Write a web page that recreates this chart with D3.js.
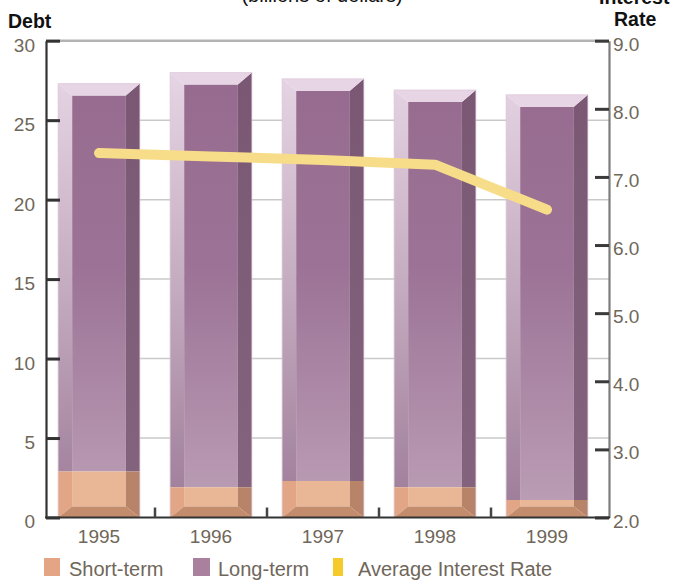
<!DOCTYPE html>
<html>
<head>
<meta charset="utf-8">
<script src="https://cdn.jsdelivr.net/npm/d3@7"></script>
<style>
  html, body { margin: 0; padding: 0; background: #ffffff; }
  svg { display: block; }
  text { font-family: "Liberation Sans", Arial, sans-serif; }
</style>
</head>
<body>
<svg id="chart" width="673" height="582"></svg>
<script>
// Debt (billions of dollars) and average interest rate, 1995–1999
const years = ["1995", "1996", "1997", "1998", "1999"];
const shortTerm = [2.9, 1.9, 2.3, 1.9, 1.1];
const longTerm = [24.4, 26.1, 25.3, 25.0, 25.5];
const interestRate = [7.35, 7.3, 7.25, 7.18, 6.52];
const debtTicks = [0, 5, 10, 15, 20, 25, 30];
const rateTicks = [2.0, 3.0, 4.0, 5.0, 6.0, 7.0, 8.0, 9.0];
const legendItems = ["Short-term", "Long-term", "Average Interest Rate"];

const svg = d3.select("#chart");
const textColor = "#6f675a";

const plotLeft = 46, plotRight = 609, plotTop = 40.7, plotBottom = 517.5;

const x = d3.scaleBand().domain(years).range([43, 603]).paddingInner(0.27).paddingOuter(0.135);
const yDebt = d3.scaleLinear().domain([0, 30]).range([plotBottom, plotTop]);
const yRate = d3.scaleLinear().domain([2, 9]).range([plotBottom, plotTop]);

// gradients
const defs = svg.append("defs");
function vGrad(id, stops) {
  const g = defs.append("linearGradient").attr("id", id)
    .attr("gradientUnits", "userSpaceOnUse")
    .attr("x1", 0).attr("x2", 0).attr("y1", plotTop + 40).attr("y2", plotBottom - 20);
  stops.forEach(([o, c]) => g.append("stop").attr("offset", o).attr("stop-color", c));
}
vGrad("longFace", [["0%", "#966b8f"], ["45%", "#9c7396"], ["100%", "#ba9cb4"]]);
vGrad("longLeft", [["0%", "#e4d3e2"], ["50%", "#c4abbf"], ["100%", "#a07f9b"]]);
vGrad("longRight", [["0%", "#7a5874"], ["100%", "#83637d"]]);

// grid lines at debt ticks
svg.append("g").selectAll("line")
  .data(debtTicks.filter(d => d > 0 && d < 30))
  .join("line")
  .attr("x1", plotLeft).attr("x2", plotRight)
  .attr("y1", d => yDebt(d)).attr("y2", d => yDebt(d))
  .attr("stroke", "#c9c9c9").attr("stroke-width", 1.5);

// top frame line
svg.append("line")
  .attr("x1", plotLeft).attr("x2", plotRight).attr("y1", plotTop).attr("y2", plotTop)
  .attr("stroke", "#b3b3b3").attr("stroke-width", 2.5);

// bevelled bars
const sb = 14, tb = 12, bb = 11;
const bars = svg.append("g");
years.forEach((yr, i) => {
  const x0 = x(yr), x1 = x(yr) + x.bandwidth();
  const yBase = yDebt(0);
  const yMid = yDebt(shortTerm[i]);
  const yTop = yDebt(shortTerm[i] + longTerm[i]);
  const g = bars.append("g");
  const poly = (pts, fill) => g.append("polygon")
    .attr("points", pts.map(p => p.join(",")).join(" ")).attr("fill", fill);

  // long-term section
  poly([[x0 + sb, yTop + tb], [x1 - sb, yTop + tb], [x1 - sb, yMid], [x0 + sb, yMid]], "url(#longFace)");
  poly([[x0, yTop], [x0 + sb, yTop + tb], [x0 + sb, yMid], [x0, yMid]], "url(#longLeft)");
  poly([[x1, yTop], [x1, yMid], [x1 - sb, yMid], [x1 - sb, yTop + tb]], "url(#longRight)");
  poly([[x0, yTop], [x1, yTop], [x1 - sb, yTop + tb], [x0 + sb, yTop + tb]], "#e7d5e5");

  // short-term section
  poly([[x0 + sb, yMid], [x1 - sb, yMid], [x1 - sb, yBase - bb], [x0 + sb, yBase - bb]], "#e9b796");
  poly([[x0, yMid], [x0 + sb, yMid], [x0 + sb, yBase - bb], [x0, yBase]], "#e2a686");
  poly([[x1, yMid], [x1, yBase], [x1 - sb, yBase - bb], [x1 - sb, yMid]], "#b7846a");
  poly([[x0, yBase], [x0 + sb, yBase - bb], [x1 - sb, yBase - bb], [x1, yBase]], "#c28c6d");

  // thin rim
  g.append("rect").attr("x", x0).attr("y", yTop)
    .attr("width", x1 - x0).attr("height", yBase - yTop)
    .attr("fill", "none").attr("stroke", "#dcc6d9").attr("stroke-width", 1).attr("stroke-opacity", 0.7);
});

// average interest rate line
const line = d3.line()
  .x((d, i) => x(years[i]) + x.bandwidth() / 2)
  .y(d => yRate(d));
svg.append("path")
  .datum(interestRate)
  .attr("d", line)
  .attr("fill", "none")
  .attr("stroke", "#f7dd8a")
  .attr("stroke-width", 10)
  .attr("stroke-linecap", "round")
  .attr("stroke-linejoin", "round");

// left axis
const leftAxis = d3.axisLeft(yDebt).tickValues(debtTicks).tickSizeInner(-14).tickSizeOuter(0).tickPadding(11);
const gl = svg.append("g").attr("transform", `translate(${plotLeft},0)`).call(leftAxis);
gl.select(".domain").attr("stroke", "#333").attr("stroke-width", 2.2);
gl.selectAll(".tick line").attr("stroke", "#333").attr("stroke-width", 3);
gl.selectAll(".tick text").attr("fill", textColor).attr("font-size", 19).attr("dy", "0.55em")
  .attr("font-family", "'Liberation Sans', Arial, sans-serif");

// right axis
const rightAxis = d3.axisRight(yRate).tickValues(rateTicks).tickSizeInner(-14).tickSizeOuter(0).tickPadding(4)
  .tickFormat(d3.format(".1f"));
const gr = svg.append("g").attr("transform", `translate(${plotRight},0)`).call(rightAxis);
gr.select(".domain").attr("stroke", "#7c7c7c").attr("stroke-width", 2.2);
gr.selectAll(".tick line").attr("stroke", "#3a3a3a").attr("stroke-width", 3);
gr.selectAll(".tick text").attr("fill", textColor).attr("font-size", 19).attr("dy", "0.5em")
  .attr("font-family", "'Liberation Sans', Arial, sans-serif");

// baseline and category labels
svg.append("line")
  .attr("x1", plotLeft - 1).attr("x2", plotRight + 1).attr("y1", plotBottom).attr("y2", plotBottom)
  .attr("stroke", "#333").attr("stroke-width", 2.2);
const bottomAxis = d3.axisBottom(x).tickSize(0).tickPadding(12);
const gb = svg.append("g").attr("transform", `translate(0,${plotBottom})`).call(bottomAxis);
gb.select(".domain").remove();
gb.selectAll(".tick text").attr("fill", textColor).attr("font-size", 19)
  .attr("font-family", "'Liberation Sans', Arial, sans-serif");

// small ticks between categories
const step = x.step();
svg.append("g").selectAll("line")
  .data(years.slice(1))
  .join("line")
  .attr("x1", d => x(d) - (step - x.bandwidth()) / 2)
  .attr("x2", d => x(d) - (step - x.bandwidth()) / 2)
  .attr("y1", plotBottom).attr("y2", plotBottom - 10)
  .attr("stroke", "#444").attr("stroke-width", 2.5);

// titles
svg.append("text").attr("x", 322).attr("y", 1.5).attr("text-anchor", "middle")
  .attr("font-size", 20).attr("fill", "#111").text("(billions of dollars)");
svg.append("text").attr("x", 8).attr("y", 28)
  .attr("font-size", 19.5).attr("font-weight", "bold").attr("fill", "#111").text("Debt");
svg.append("text").attr("x", 599).attr("y", 4)
  .attr("font-size", 19.5).attr("font-weight", "bold").attr("fill", "#111").text("Interest");
svg.append("text").attr("x", 614).attr("y", 26)
  .attr("font-size", 19.5).attr("font-weight", "bold").attr("fill", "#111").text("Rate");

// legend
const legendX = [44, 193, 333];
const legendW = [16, 17, 10];
const legendColors = ["#e4a585", "#a9819f", "#f5ca2b"];
const lg = svg.append("g");
legendItems.forEach((name, i) => {
  lg.append("rect").attr("x", legendX[i]).attr("y", 558)
    .attr("width", legendW[i]).attr("height", 18).attr("fill", legendColors[i]);
  lg.append("text").attr("x", legendX[i] + 25).attr("y", 576)
    .attr("font-size", 20).attr("fill", textColor).text(name);
});
</script>
</body>
</html>
